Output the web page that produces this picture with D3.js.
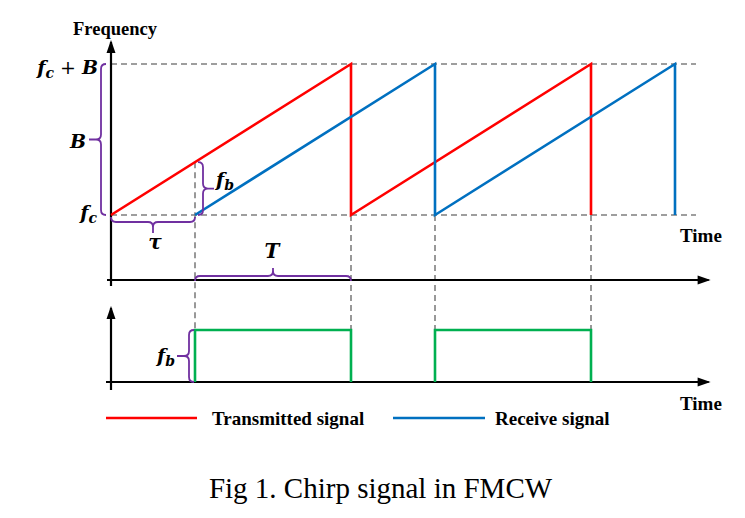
<!DOCTYPE html>
<html><head><meta charset="utf-8">
<script src="https://cdn.jsdelivr.net/npm/d3@7"></script>
<style>html,body{margin:0;padding:0;background:#fff;}svg{display:block;}</style>
</head><body>
<script>
// ---- data (time in units of chirp period T, frequency normalised: 0 = fc, 1 = fc + B)
const tau = 0.35;
const transmitted = [[0,0],[1,1],[1,0],[2,1],[2,0]];
const received = [[0.35,0],[1.35,1],[1.35,0],[2.35,1],[2.35,0]];
const beatPulses = [[0.35,1],[1.35,2]];       // start/end of each beat-frequency pulse
const guideTimes = [0.35,1,1.35,2];
const guideTops = [0.35,0,0,0];
const freqLevels = [0,1];
const legendItems = ["Transmitted signal","Receive signal"];
const colors = {tx:"#ff0000", rx:"#0070c0", beat:"#00b050", brace:"#7030a0", guide:"#7f7f7f"};

const W = 745, H = 518;
const svg = d3.select("body").append("svg").attr("width",W).attr("height",H);

const x = d3.scaleLinear().domain([0,1]).range([111,351]);
const yTop = d3.scaleLinear().domain([0,1]).range([215,64]);
const yBot = d3.scaleLinear().domain([0,1]).range([382,330]);
const topAxisY = 280;

const serif = "'Liberation Serif','Times New Roman',serif";
const mathFont = "'DejaVu Serif',serif";

// ---- guides
const g = svg.append("g");
g.selectAll(".hguide").data(freqLevels).enter().append("line")
  .attr("x1", x(0)).attr("x2", x(2.4375))
  .attr("y1", d=>yTop(d)).attr("y2", d=>yTop(d))
  .attr("stroke", colors.guide).attr("stroke-width",1.6).attr("stroke-dasharray","6,4");
g.selectAll(".vguide").data(guideTimes).enter().append("line")
  .attr("x1", d=>x(d)).attr("x2", d=>x(d))
  .attr("y1", (d,i)=>yTop(guideTops[i])).attr("y2", yBot(1))
  .attr("stroke", colors.guide).attr("stroke-width",1.6).attr("stroke-dasharray","6,4");

// ---- axes with arrows
function arrowAxis(x1,y1,x2,y2){
  svg.append("line").attr("x1",x1).attr("y1",y1).attr("x2",x2).attr("y2",y2)
    .attr("stroke","#000").attr("stroke-width",2.2);
  const ang = Math.atan2(y2-y1,x2-x1), L=11, Wd=4.5;
  const bx = x2 - L*Math.cos(ang), by = y2 - L*Math.sin(ang);
  const px = -Math.sin(ang)*Wd, py = Math.cos(ang)*Wd;
  svg.append("path").attr("d",`M${x2+2*Math.cos(ang)},${y2+2*Math.sin(ang)}L${bx+px},${by+py}L${bx-px},${by-py}Z`).attr("fill","#000");
}
arrowAxis(x(0), 286, x(0), 42);
arrowAxis(x(0)-4, topAxisY, x(2.49), topAxisY);
arrowAxis(x(0), 390, x(0), 308);
arrowAxis(x(0)-5, yBot(0), x(2.49), yBot(0));

// ---- signals
const lineTop = d3.line().x(d=>x(d[0])).y(d=>yTop(d[1]));
svg.append("path").datum(transmitted).attr("d",lineTop).attr("fill","none")
  .attr("stroke",colors.tx).attr("stroke-width",2.6);
svg.append("path").datum(received).attr("d",lineTop).attr("fill","none")
  .attr("stroke",colors.rx).attr("stroke-width",2.6);

const lineBot = d3.line().x(d=>x(d[0])).y(d=>yBot(d[1]));
svg.selectAll(".beat").data(beatPulses).enter().append("path")
  .attr("d", d=>lineBot([[d[0],0],[d[0],1],[d[1],1],[d[1],0]]))
  .attr("fill","none").attr("stroke",colors.beat).attr("stroke-width",2.6);

// ---- braces
function vbrace(bx,y1,y2,dir,r,tick){
  const ym=(y1+y2)/2;
  const d=`M${bx-dir*r},${y1}Q${bx},${y1} ${bx},${y1+r}L${bx},${ym-r}Q${bx},${ym} ${bx+dir*r},${ym}`+
    `Q${bx},${ym} ${bx},${ym+r}L${bx},${y2-r}Q${bx},${y2} ${bx-dir*r},${y2}`+
    `M${bx+dir*r},${ym}L${bx+dir*(r+tick)},${ym}`;
  svg.append("path").attr("d",d).attr("fill","none").attr("stroke",colors.brace).attr("stroke-width",1.8);
}
function hbrace(by,x1,x2,dir,r,tick){
  const xm=(x1+x2)/2;
  const d=`M${x1},${by-dir*r}Q${x1},${by} ${x1+r},${by}L${xm-r},${by}Q${xm},${by} ${xm},${by+dir*r}`+
    `Q${xm},${by} ${xm+r},${by}L${x2-r},${by}Q${x2},${by} ${x2},${by-dir*r}`+
    `M${xm},${by+dir*r}L${xm},${by+dir*(r+tick)}`;
  svg.append("path").attr("d",d).attr("fill","none").attr("stroke",colors.brace).attr("stroke-width",1.8);
}
vbrace(101, yTop(1), yTop(0), -1, 5, 7);
hbrace(222, x(0), x(tau), 1, 5, 6);
vbrace(203, yTop(tau), yTop(0), 1, 5, 6);
hbrace(276, x(tau), x(1), -1, 5, 3);
vbrace(189, yBot(1), yBot(0), -1, 5, 7);

// ---- math labels
function mlabel(tx,ty,anchor,parts,size){
  const t = svg.append("text").attr("x",tx).attr("y",ty).attr("text-anchor",anchor)
    .attr("font-family",mathFont).attr("font-weight","bold").attr("font-size",size||19);
  parts.forEach(p=>{
    const s=t.append("tspan").text(p.t);
    if(p.it) s.attr("font-style","italic");
    if(p.sub){ s.attr("font-size",14).attr("dy",4); }
    if(p.up){ s.attr("dy",-4); }
    if(p.w) s.attr("font-weight",p.w);
  });
}
mlabel(98,74,"end",[{t:"f",it:1},{t:"c",it:1,sub:1},{t:" + ",up:1,w:"normal"},{t:"B",it:1}]);
mlabel(86,148,"end",[{t:"B",it:1}]);
mlabel(97,219,"end",[{t:"f",it:1},{t:"c",it:1,sub:1}]);
mlabel(155,249,"middle",[{t:"τ",it:1}],20);
mlabel(272,258,"middle",[{t:"T",it:1}],20);
mlabel(216,186,"start",[{t:"f",it:1},{t:"b",it:1,sub:1}]);
mlabel(175,362,"end",[{t:"f",it:1},{t:"b",it:1,sub:1}]);

// ---- axis titles
function btext(tx,ty,str,size,anchor,weight){
  svg.append("text").attr("x",tx).attr("y",ty).attr("text-anchor",anchor||"start")
    .attr("font-family",serif).attr("font-weight",weight||"bold").attr("font-size",size).text(str);
}
btext(73,35,"Frequency",18.5);
btext(680,242,"Time",19);
btext(680,410,"Time",19);

// ---- legend
const legendX = [[106,197,212],[393,485,495]];
legendItems.forEach((name,i)=>{
  svg.append("line").attr("x1",legendX[i][0]).attr("x2",legendX[i][1]).attr("y1",418).attr("y2",418)
    .attr("stroke", i===0?colors.tx:colors.rx).attr("stroke-width",2.6);
  btext(legendX[i][2],425,name,19);
});

// ---- caption
btext(380.5,498,"Fig 1. Chirp signal in FMCW",29,"middle","normal");
</script>
</body></html>
